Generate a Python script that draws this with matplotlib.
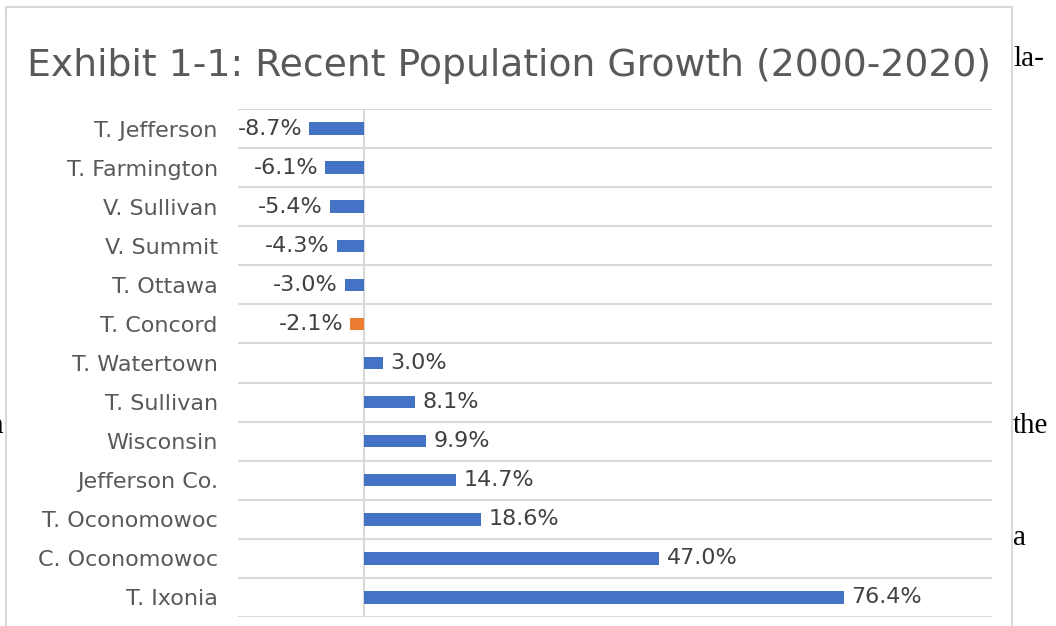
import matplotlib.pyplot as plt
from matplotlib.patches import Rectangle

places = ['T. Jefferson', 'T. Farmington', 'V. Sullivan', 'V. Summit', 'T. Ottawa',
          'T. Concord', 'T. Watertown', 'T. Sullivan', 'Wisconsin', 'Jefferson Co.',
          'T. Oconomowoc', 'C. Oconomowoc', 'T. Ixonia']
growth = [-8.7, -6.1, -5.4, -4.3, -3.0, -2.1, 3.0, 8.1, 9.9, 14.7, 18.6, 47.0, 76.4]
highlight = 'T. Concord'

blue = '#4472C4'
orange = '#ED7D31'
grey_text = '#595959'
grid_col = '#D9D9D9'

W, H = 1056, 626
fig = plt.figure(figsize=(W / 100, H / 100), dpi=100)

# chart frame (continues below the crop)
fig.patches.append(Rectangle((6 / W, -0.1), (1012 - 6) / W, 1.1 - 7 / H,
                             transform=fig.transFigure, fill=False,
                             edgecolor=grid_col, linewidth=1.5))

ax = fig.add_axes([238 / W, 1 - 617 / H, (992 - 238) / W, (617 - 109) / H])

ypos = list(range(len(places)))
colors = [orange if p == highlight else blue for p in places]
ax.barh(ypos, growth, height=0.32, color=colors, zorder=3)

for y, v in zip(ypos, growth):
    if v < 0:
        ax.annotate(f'{v:.1f}%', (v, y), xytext=(-5, 0), textcoords='offset points',
                    ha='right', va='center', fontsize=16, color='#404040')
    else:
        ax.annotate(f'{v:.1f}%', (v, y), xytext=(5.5, 0), textcoords='offset points',
                    ha='left', va='center', fontsize=16, color='#404040')

ax.set_xlim(-20, 100)
ax.set_ylim(len(places) - 0.5, -0.5)
ax.set_yticks(ypos)
ax.set_yticklabels(places, fontsize=16, color=grey_text)
ax.set_xticks([])
ax.set_yticks([y + 0.5 for y in range(-1, len(places))], minor=True)
ax.tick_params(axis='y', which='both', length=0, pad=14.5)
ax.grid(axis='y', which='minor', color=grid_col, linewidth=1.5, zorder=0)
ax.axvline(0, color=grid_col, linewidth=1.5, zorder=1)
for s in ax.spines.values():
    s.set_visible(False)

fig.text(27 / W, 1 - 66 / H, 'Exhibit 1-1: Recent Population Growth (2000-2020)',
         fontsize=27.2, color=grey_text, ha='left', va='center')

# surrounding document text that shows at the edges
serif = dict(family='Liberation Serif', fontsize=21, color='black', va='baseline')
fig.text(1013 / W, 1 - 66 / H, 'la-', ha='left', **serif)
fig.text(1013 / W, 1 - 433 / H, 'the', ha='left', **serif)
fig.text(1013 / W, 1 - 545 / H, 'a', ha='left', **serif)
fig.text(3 / W, 1 - 433 / H, 'n', ha='right', **serif)

fig.savefig('out.png', dpi=100)
